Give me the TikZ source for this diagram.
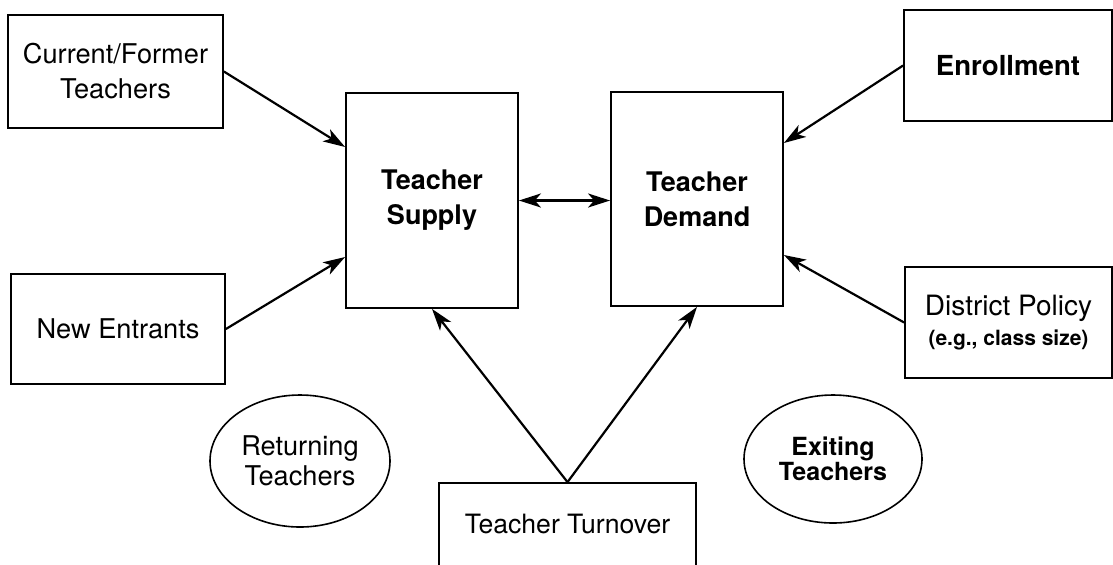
\documentclass[tikz,border=0pt]{standalone}
\usepackage{fontspec}
\setmainfont{TeX Gyre Heros}
\usetikzlibrary{arrows.meta,positioning,shapes.geometric}

\tikzset{
  box/.style={draw,line width=0.9pt,align=center,inner sep=0pt,font=\fontsize{13.6}{17.5}\selectfont},
  oval/.style={draw,ellipse,line width=0.8pt,align=center,inner sep=0pt},
  link/.style={line width=1.1pt,-{Stealth[length=11pt,width=7pt,inset=3pt]}}
}

\begin{document}
\begin{tikzpicture}[x=0.5pt,y=-0.5pt]
\useasboundingbox (0,0) rectangle (1113,564);

\node[box,minimum width=107.5pt,minimum height=56.5pt] (cur) at (115.5,71.5) {Current/Former\\Teachers};
\node[box,minimum width=107pt,minimum height=55pt] (new) at (118,329) {New Entrants};
\node[box,font=\fontsize{13.5}{17.5}\selectfont\bfseries,minimum width=86pt,minimum height=107.5pt] (sup) at (432,200.5) {Teacher\\Supply};
\node[box,font=\fontsize{13.5}{17.5}\selectfont\bfseries,minimum width=86pt,minimum height=107pt] (dem) at (697,199) {Teacher\\Demand};
\node[box,font=\fontsize{13.8}{17.5}\selectfont\bfseries,minimum width=104pt,minimum height=55.5pt] (enr) at (1008,65.5) {Enrollment};
\node[box,font=\fontsize{14}{15}\selectfont,minimum width=103.5pt,minimum height=55.5pt] (pol) at (1008.5,322.5) {District Policy\\{\fontsize{10.5}{15}\selectfont\bfseries (e.g., class size)}};
\node[box,font=\fontsize{13.3}{17.5}\selectfont,text depth=5pt,minimum width=128.5pt,minimum height=46pt] (turn) at (567.5,529) {Teacher Turnover};

\node[oval,font=\fontsize{13.6}{15}\selectfont,minimum width=90pt,minimum height=66pt] (ret) at (300,461) {Returning\\Teachers};
\node[oval,font=\fontsize{12.5}{12.5}\selectfont\bfseries,minimum width=89pt,minimum height=64pt] (exi) at (833,459) {Exiting\\Teachers};

% inflows
\draw[link] (cur.east) -- ([yshift=26.75pt]sup.west);
\draw[link] (new.east) -- ([yshift=-28.25pt]sup.west);
\draw[link] (enr.west) -- ([yshift=28pt]dem.east);
\draw[link] (pol.west) -- ([yshift=-28pt]dem.east);
\draw[link] (turn.north) -- (sup.south);
\draw[link] (turn.north) -- (dem.south);
\draw[line width=1.1pt,{Stealth[length=11pt,width=7pt,inset=3pt]}-{Stealth[length=11pt,width=7pt,inset=3pt]}] (sup.east) -- (sup.east -| dem.west);
\end{tikzpicture}
\end{document}
